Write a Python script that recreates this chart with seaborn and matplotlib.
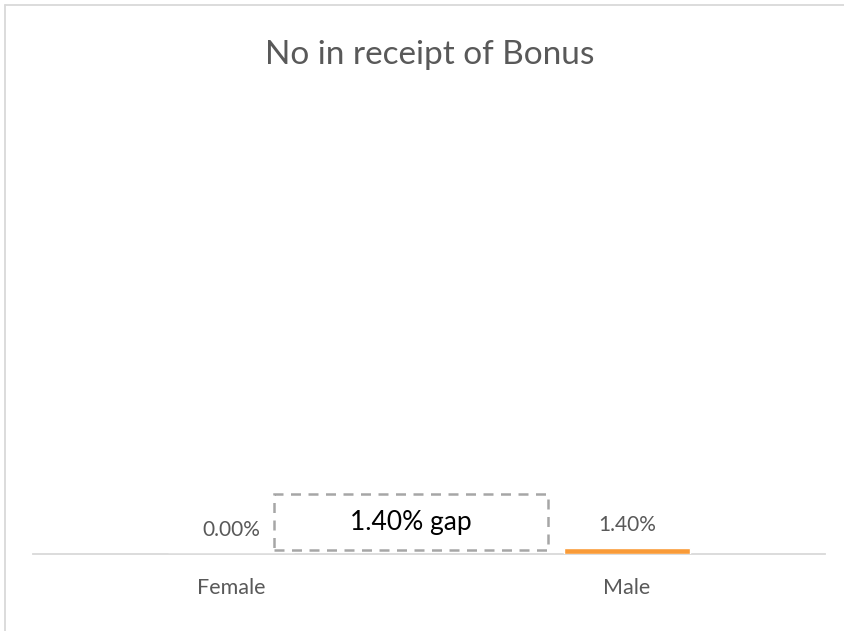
import matplotlib
matplotlib.use("Agg")
import matplotlib.pyplot as plt
import seaborn as sns
import pandas as pd
from matplotlib.patches import Rectangle
from matplotlib.lines import Line2D

categories = ["Female", "Male"]
values = [0.0, 0.014]
value_labels = ["0.00%", "1.40%"]
gap_label = "1.40% gap"
title = "No in receipt of Bonus"

sns.set_theme(style="white")
plt.rcParams['font.family'] = ['Lato', 'DejaVu Sans']

TXT = "#595959"
fig = plt.figure(figsize=(8.45, 6.31), dpi=100)
W, H = 845, 631
ax = fig.add_axes([33 / W, 1 - 554 / H, (825 - 33) / W, (554 - 90) / H])

df = pd.DataFrame({"cat": categories, "val": values})
sns.barplot(data=df, x="cat", y="val", color="#F99B38", width=0.317,
            saturation=1, ax=ax)
ax.set_xlim(-0.5, 1.5)
ax.set_ylim(0, 1.0)
ax.set_xlabel("")
ax.set_ylabel("")
ax.set_yticks([])
for s in ["top", "left", "right"]:
    ax.spines[s].set_visible(False)
ax.spines["bottom"].set_color("#D9D9D9")
ax.spines["bottom"].set_linewidth(1.3)
ax.spines["bottom"].set_zorder(0)
ax.tick_params(axis="x", length=0, pad=17.5, labelsize=15.5, labelcolor=TXT)

ax.annotate(value_labels[0], (0, values[0]), xytext=(0, 17.5),
            textcoords="offset points", ha="center", va="center",
            fontsize=15, color=TXT)
ax.annotate(value_labels[1], (1, values[1]), xytext=(0, 16.5),
            textcoords="offset points", ha="center", va="center",
            fontsize=15, color=TXT)

# gap box (annotation)
x0, x1 = 0.109, 0.80
y0, y1 = 0.008, 0.129
box = Rectangle((x0, y0), x1 - x0, y1 - y0, fill=False,
                edgecolor="#A6A6A6", linestyle=(0, (4, 3)), linewidth=1.8,
                clip_on=False)
ax.add_patch(box)
ax.text((x0 + x1) / 2, (y0 + y1) / 2, gap_label, ha="center",
        va="center", fontsize=19, color="black")

fig.text(430 / W, 1 - 64 / H, title, ha="center", va="baseline",
         fontsize=24, color=TXT)

# chart area border (top and left)
fig.add_artist(Line2D([5 / W, 5 / W], [0, 1 - 5 / H], color="#D9D9D9",
                      lw=1.3, transform=fig.transFigure))
fig.add_artist(Line2D([5 / W, 1], [1 - 5 / H, 1 - 5 / H], color="#D9D9D9",
                      lw=1.3, transform=fig.transFigure))

fig.savefig("out.png", dpi=100)
